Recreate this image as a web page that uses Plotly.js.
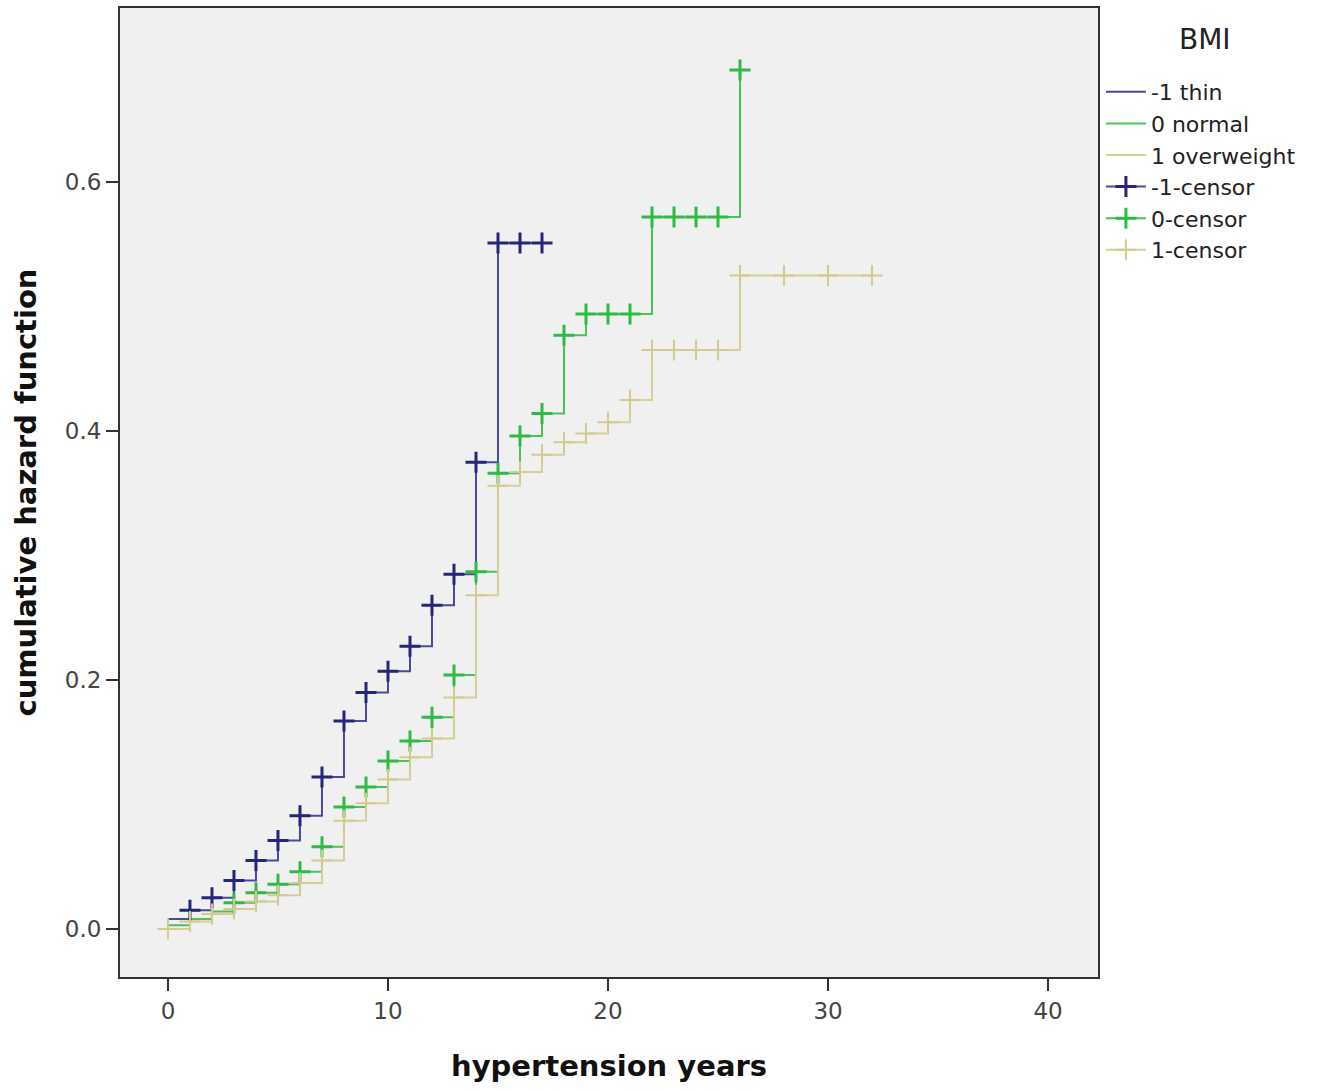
<!DOCTYPE html>
<html>
<head>
<meta charset="utf-8">
<script src="https://cdn.plot.ly/plotly-3.0.1.min.js"></script>
<style>html,body{margin:0;padding:0;background:#fff;}#chart{width:1319px;height:1091px;}</style>
</head>
<body>
<div id="chart"></div>
<script>
// hypertension years (x) and cumulative hazard (y) per BMI group
var thinYears = [0,1,2,3,4,5,6,7,8,9,10,11,12,13,14,15,16,17];
var thinHazard = [0.008,0.015,0.025,0.039,0.055,0.071,0.091,0.122,0.167,0.190,0.207,0.227,0.260,0.285,0.375,0.551,0.551,0.551];
var thinCensor = [1,2,3,4,5,6,7,8,9,10,11,12,13,14,15,16,17];

var normalYears = [0,1,2,3,4,5,6,7,8,9,10,11,12,13,14,15,16,17,18,19,20,21,22,23,24,25,26];
var normalHazard = [0.003,0.008,0.014,0.021,0.029,0.036,0.046,0.066,0.098,0.114,0.135,0.151,0.170,0.204,0.287,0.366,0.396,0.414,0.477,0.494,0.494,0.494,0.572,0.572,0.572,0.572,0.690];
var normalCensor = [3,4,5,6,7,8,9,10,11,12,13,14,15,16,17,18,19,20,21,22,23,24,25,26];

var overYears = [0,1,2,3,4,5,6,7,8,9,10,11,12,13,14,15,16,17,18,19,20,21,22,23,24,25,26,28,30,32];
var overHazard = [0.000,0.006,0.012,0.016,0.022,0.027,0.037,0.055,0.087,0.101,0.120,0.138,0.153,0.186,0.268,0.356,0.367,0.381,0.391,0.398,0.407,0.425,0.465,0.465,0.465,0.465,0.525,0.525,0.525,0.525];
var overCensor = [0,1,2,3,4,5,6,7,8,9,10,11,12,13,14,15,16,17,18,19,20,21,22,23,24,25,26,28,30,32];

var groupNames = ['-1 thin','0 normal','1 overweight'];
var censorNames = ['-1-censor','0-censor','1-censor'];
var legendTitle = 'BMI';
var tickVals = [0,10,20,30,40];
var yTickVals = [0.0,0.2,0.4,0.6];
var yTickText = ['0.0','0.2','0.4','0.6'];

var lineColors = ['#4a4a9c','#4cc05a','#d6cf98'];
var markColors = ['#25257a','#2fba45','#d2ca8e'];
var markWidths = [3,3,2];

function lookup(xs, ys, t){ return ys[xs.indexOf(t)]; }

var groups = [
  [thinYears, thinHazard, thinCensor],
  [normalYears, normalHazard, normalCensor],
  [overYears, overHazard, overCensor]
];

var traces = [];
groups.forEach(function(g,i){
  traces.push({x:g[0], y:g[1], type:'scatter', mode:'lines', line:{shape:'hv', color:lineColors[i], width:2},
    name:groupNames[i], showlegend:true, legendrank:i+1, hoverinfo:'skip'});
});
groups.forEach(function(g,i){
  traces.push({x:g[2], y:g[2].map(function(t){return lookup(g[0],g[1],t);}), type:'scatter', mode:'markers',
    marker:{symbol:'cross-thin', size:15, color:markColors[i], line:{color:markColors[i], width:markWidths[i]}},
    showlegend:false, hoverinfo:'skip'});
});
groups.forEach(function(g,i){
  traces.push({x:[null], y:[null], type:'scatter', mode:'lines+markers', name:censorNames[i],
    line:{color:lineColors[i], width:2},
    marker:{symbol:'cross-thin', size:15, color:markColors[i], line:{color:markColors[i], width:markWidths[i]}},
    showlegend:true, legendrank:i+4});
});

var layout = {
  width:1319, height:1091,
  margin:{l:120, r:221, t:8, b:114},
  paper_bgcolor:'#ffffff', plot_bgcolor:'#f0f0f0',
  showlegend:true,
  legend:{x:1.003, y:0.935, xanchor:'left', yanchor:'top', bgcolor:'rgba(0,0,0,0)',
    font:{family:'DejaVu Sans', size:22, color:'#222'},
    tracegroupgap:0, itemwidth:40},
  annotations:[{text:legendTitle, xref:'paper', yref:'paper', x:1.1094, y:0.967, xanchor:'center', yanchor:'middle',
    showarrow:false, font:{family:'DejaVu Sans', size:28, color:'#222'}}],
  xaxis:{range:[-2.18,42.27], tickvals:tickVals, ticks:'outside', ticklen:12, tickwidth:2, tickcolor:'#333',
    showgrid:false, zeroline:false, showline:true, mirror:true, linecolor:'#333', linewidth:2,
    tickfont:{family:'DejaVu Sans', size:23, color:'#444'},
    title:{text:'<b>hypertension years</b>', standoff:33, font:{family:'DejaVu Sans', size:29, color:'#111'}}},
  yaxis:{range:[-0.0386,0.7398], tickvals:yTickVals, ticktext:yTickText, ticks:'outside', ticklen:12, tickwidth:2, tickcolor:'#333',
    showgrid:false, zeroline:false, showline:true, mirror:true, linecolor:'#333', linewidth:2,
    tickfont:{family:'DejaVu Sans', size:23, color:'#444'},
    title:{text:'<b>cumulative hazard function</b>', standoff:20, font:{family:'DejaVu Sans', size:29, color:'#111'}}}
};

Plotly.newPlot('chart', traces, layout, {displayModeBar:false, staticPlot:true});
</script>
</body>
</html>
